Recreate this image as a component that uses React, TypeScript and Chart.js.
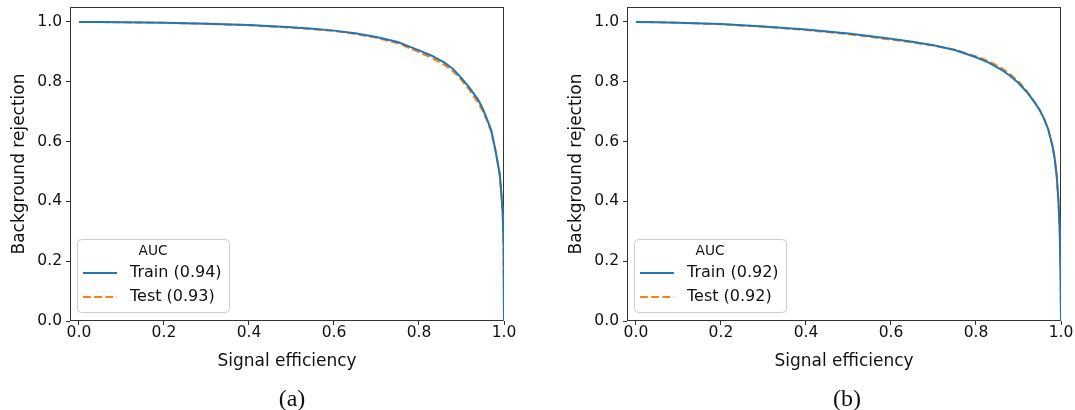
import { useEffect, useRef } from "react";
import { Chart, registerables } from "chart.js";

Chart.register(...registerables);

// Signal efficiency sample points (shared by train/test curves of each panel)
const efficiencyA = [0, 0.05, 0.1, 0.2, 0.3, 0.4, 0.5, 0.55, 0.6, 0.65, 0.7, 0.75, 0.8, 0.83, 0.86, 0.88, 0.9, 0.92, 0.94, 0.95, 0.96, 0.97, 0.98, 0.985, 0.99, 0.994, 0.997, 0.999, 1.0];
const trainRejectionA = [1.0, 0.9995, 0.999, 0.997, 0.994, 0.99, 0.982, 0.977, 0.971, 0.962, 0.95, 0.933, 0.905, 0.887, 0.864, 0.843, 0.812, 0.778, 0.738, 0.71, 0.675, 0.638, 0.57, 0.53, 0.49, 0.42, 0.36, 0.25, 0.0];
const testRejectionA = [1.0, 0.9995, 0.999, 0.997, 0.994, 0.989, 0.981, 0.976, 0.97, 0.96, 0.947, 0.929, 0.899, 0.88, 0.856, 0.835, 0.806, 0.77, 0.727, 0.702, 0.67, 0.633, 0.567, 0.53, 0.49, 0.42, 0.36, 0.25, 0.0];

const efficiencyB = [0, 0.05, 0.1, 0.2, 0.3, 0.4, 0.5, 0.6, 0.65, 0.7, 0.75, 0.8, 0.83, 0.86, 0.88, 0.9, 0.92, 0.94, 0.95, 0.96, 0.97, 0.98, 0.985, 0.99, 0.994, 0.997, 0.999, 1.0];
const trainRejectionB = [1.0, 0.999, 0.997, 0.993, 0.985, 0.975, 0.961, 0.944, 0.934, 0.922, 0.906, 0.882, 0.864, 0.84, 0.82, 0.796, 0.765, 0.727, 0.705, 0.677, 0.641, 0.585, 0.545, 0.484, 0.4, 0.3, 0.15, 0.0];
const testRejectionB = [1.0, 0.999, 0.997, 0.992, 0.984, 0.973, 0.959, 0.941, 0.932, 0.921, 0.907, 0.885, 0.869, 0.846, 0.826, 0.801, 0.768, 0.728, 0.705, 0.677, 0.641, 0.585, 0.545, 0.484, 0.4, 0.3, 0.15, 0.0];

const aucTrain = [0.94, 0.92];
const aucTest = [0.93, 0.92];
const captions = ["(a)", "(b)"];

const xTickValues = [0, 0.2, 0.4, 0.6, 0.8, 1.0];
const yTickValues = [0, 0.2, 0.4, 0.6, 0.8, 1.0];

const SANS = "'DejaVu Sans', sans-serif";
const INK = "#111111";
const FRAME = "#333333";

// Full box around the plotting area, drawn under the curves
const framePlugin = {
  id: "axesFrame",
  beforeDatasetsDraw(chart: any) {
    const { ctx, chartArea } = chart;
    ctx.save();
    ctx.strokeStyle = FRAME;
    ctx.lineWidth = 1;
    ctx.strokeRect(
      Math.round(chartArea.left) + 0.5,
      Math.round(chartArea.top) + 0.5,
      Math.round(chartArea.right - chartArea.left) - 1,
      Math.round(chartArea.bottom - chartArea.top) - 1
    );
    ctx.restore();
  },
};

// Boxed legend with a title, placed in the lower-left corner of the plot
const aucLegendPlugin = {
  id: "aucLegend",
  afterDatasetsDraw(chart: any, _args: any, opts: any) {
    const { ctx, chartArea } = chart;
    const w = 152;
    const h = 73;
    const x0 = Math.round(chartArea.left) + 7;
    const y0 = Math.round(chartArea.bottom) - 9 - h;
    ctx.save();
    ctx.beginPath();
    ctx.roundRect(x0 + 0.5, y0 + 0.5, w, h, 4);
    ctx.fillStyle = "rgba(255,255,255,0.85)";
    ctx.fill();
    ctx.strokeStyle = "#cccccc";
    ctx.lineWidth = 1;
    ctx.stroke();

    ctx.fillStyle = INK;
    ctx.textBaseline = "middle";
    ctx.textAlign = "center";
    ctx.font = `13.7px ${SANS}`;
    ctx.fillText(opts.title || "", x0 + w / 2, y0 + 12);

    chart.data.datasets.forEach((ds: any, i: number) => {
      const y = y0 + 34 + i * 24;
      ctx.beginPath();
      ctx.setLineDash(ds.borderDash || []);
      ctx.strokeStyle = ds.borderColor;
      ctx.lineWidth = ds.borderWidth;
      ctx.moveTo(x0 + 6, y);
      ctx.lineTo(x0 + 40, y);
      ctx.stroke();
      ctx.setLineDash([]);
      ctx.fillStyle = INK;
      ctx.textAlign = "left";
      ctx.font = `16px ${SANS}`;
      ctx.fillText(ds.label, x0 + 53, y);
    });
    ctx.restore();
  },
};

function toPoints(xs: number[], ys: number[]) {
  return xs.map((x, k) => ({ x, y: ys[k] }));
}

function buildConfig(panel: number, padRight: number): any {
  const xs = panel === 0 ? efficiencyA : efficiencyB;
  const train = panel === 0 ? trainRejectionA : trainRejectionB;
  const test = panel === 0 ? testRejectionA : testRejectionB;
  const tickFont = { family: SANS, size: 15.5, lineHeight: 1 };
  const titleFont = { family: SANS, size: 17, lineHeight: 1.2 };
  return {
    type: "line",
    data: {
      datasets: [
        {
          label: `Train (${aucTrain[panel].toFixed(2)})`,
          data: toPoints(xs, train),
          borderColor: "#1f77b4",
          borderWidth: 2,
          pointRadius: 0,
          tension: 0,
          fill: false,
        },
        {
          label: `Test (${aucTest[panel].toFixed(2)})`,
          data: toPoints(xs, test),
          borderColor: "#ff7f0e",
          borderWidth: 2,
          borderDash: [7.8, 3.4],
          pointRadius: 0,
          tension: 0,
          fill: false,
        },
      ],
    },
    options: {
      responsive: false,
      animation: false,
      events: [],
      layout: { padding: { left: 0, right: padRight, top: 7, bottom: 0 } },
      plugins: {
        legend: { display: false },
        tooltip: { enabled: false },
        title: { display: false },
        aucLegend: { title: "AUC" },
      },
      scales: {
        x: {
          type: "linear",
          min: -0.021,
          max: 1.0,
          afterBuildTicks: (s: any) => {
            s.ticks = xTickValues.map((value) => ({ value }));
          },
          afterFit: (s: any) => {
            s.height = 89;
            s.paddingLeft = 0;
            s.paddingRight = 0;
          },
          ticks: {
            autoSkip: false,
            maxRotation: 0,
            padding: 0,
            color: INK,
            font: tickFont,
            callback: (v: any) => Number(v).toFixed(1),
          },
          grid: { drawOnChartArea: false, drawTicks: true, tickLength: 4, color: FRAME, lineWidth: 1 },
          border: { display: false },
          title: {
            display: true,
            text: "Signal efficiency",
            color: INK,
            font: titleFont,
            padding: { top: 0, bottom: 38 },
          },
        },
        y: {
          type: "linear",
          min: 0,
          max: 1.05,
          afterBuildTicks: (s: any) => {
            s.ticks = yTickValues.map((value) => ({ value }));
          },
          afterFit: (s: any) => {
            s.width = 70;
            s.paddingTop = 0;
            s.paddingBottom = 0;
          },
          ticks: {
            autoSkip: false,
            padding: 4,
            color: INK,
            font: tickFont,
            callback: (v: any) => Number(v).toFixed(1),
          },
          grid: { drawOnChartArea: false, drawTicks: true, tickLength: 4, color: FRAME, lineWidth: 1 },
          border: { display: false },
          title: {
            display: true,
            text: "Background rejection",
            color: INK,
            font: titleFont,
            padding: { top: 9, bottom: 0 },
          },
        },
      },
    },
    plugins: [framePlugin, aucLegendPlugin],
  };
}

function RocPanel({ panel, left, width, padRight, captionX }: { panel: number; left: number; width: number; padRight: number; captionX: number }) {
  const ref = useRef<HTMLCanvasElement | null>(null);
  useEffect(() => {
    if (!ref.current) return;
    const chart = new Chart(ref.current, buildConfig(panel, padRight));
    return () => chart.destroy();
  }, [panel, padRight]);
  return (
    <>
      <canvas
        ref={ref}
        width={width}
        height={410}
        style={{ position: "absolute", left, top: 0, width, height: 410, display: "block" }}
      />
      <div
        style={{
          position: "absolute",
          left: captionX - 50,
          width: 100,
          top: 386,
          textAlign: "center",
          fontFamily: "'Liberation Serif', 'Times New Roman', serif",
          fontSize: 24,
          lineHeight: "24px",
          color: INK,
        }}
      >
        {captions[panel]}
      </div>
    </>
  );
}

export default function App() {
  return (
    <div style={{ position: "absolute", left: 0, top: 0, width: 1075, height: 410, background: "#ffffff", overflow: "hidden" }}>
      <RocPanel panel={0} left={0} width={557} padRight={53} captionX={292} />
      <RocPanel panel={1} left={557} width={518} padRight={14} captionX={847} />
    </div>
  );
}
